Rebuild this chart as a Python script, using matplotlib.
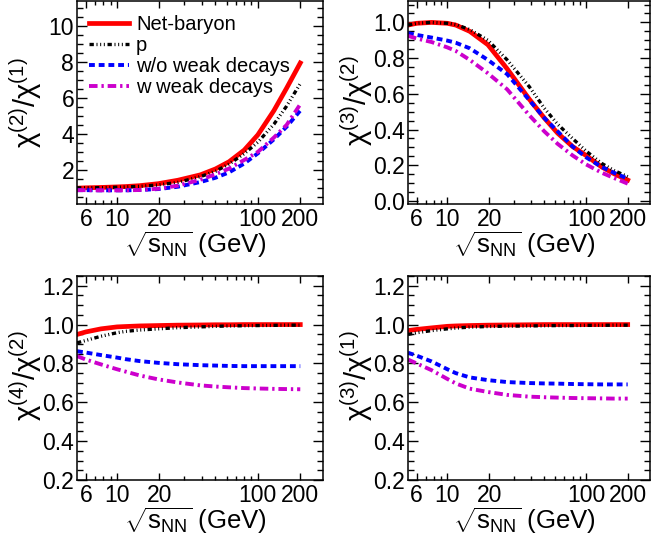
import matplotlib
matplotlib.use('Agg')
import matplotlib.pyplot as plt
from matplotlib.ticker import FixedLocator, NullFormatter, MultipleLocator

plt.rcParams['font.family'] = ['Liberation Sans', 'DejaVu Sans']
plt.rcParams['mathtext.fontset'] = 'custom'
plt.rcParams['mathtext.rm'] = 'Liberation Sans'
plt.rcParams['mathtext.it'] = 'Liberation Sans:italic'
plt.rcParams['mathtext.bf'] = 'Liberation Sans:bold'
plt.rcParams['mathtext.default'] = 'regular'

# collision energies (GeV)
energy = [5.2, 6, 7.7, 10, 11.5, 14.5, 19.6, 27, 39, 50, 62.4, 80, 100, 130, 160, 200]

series_names = ['Net-baryon', 'p', 'w/o weak decays', 'w weak decays']

# chi2/chi1
r21_netb = [0.98, 1.0, 1.02, 1.05, 1.07, 1.12, 1.23, 1.42, 1.72, 2.05, 2.45, 3.1, 3.95, 5.3, 6.55, 7.95]
r21_p = [1.0, 1.0, 1.01, 1.03, 1.05, 1.08, 1.16, 1.3, 1.62, 1.92, 2.32, 2.9, 3.54, 4.54, 5.55, 6.8]
r21_wo = [0.87, 0.87, 0.86, 0.86, 0.86, 0.88, 0.93, 1.06, 1.32, 1.56, 1.86, 2.35, 2.92, 3.7, 4.4, 5.3]
r21_w = [0.87, 0.87, 0.86, 0.86, 0.86, 0.88, 0.95, 1.12, 1.45, 1.75, 2.07, 2.55, 3.0, 3.8, 4.5, 5.65]

# chi3/chi2
r32_netb = [0.985, 0.995, 1.0, 0.995, 0.985, 0.95, 0.875, 0.74, 0.57, 0.465, 0.38, 0.305, 0.255, 0.19, 0.152, 0.117]
r32_p = [0.985, 0.995, 1.0, 0.995, 0.988, 0.96, 0.9, 0.79, 0.64, 0.52, 0.43, 0.35, 0.28, 0.21, 0.17, 0.136]
r32_wo = [0.94, 0.93, 0.915, 0.898, 0.886, 0.855, 0.79, 0.71, 0.565, 0.465, 0.39, 0.305, 0.245, 0.19, 0.157, 0.125]
r32_w = [0.925, 0.91, 0.89, 0.86, 0.84, 0.79, 0.715, 0.625, 0.48, 0.39, 0.32, 0.255, 0.205, 0.158, 0.128, 0.097]

# chi4/chi2
r42_netb = [0.949, 0.962, 0.978, 0.988, 0.99, 0.993, 0.995, 0.997, 0.998, 0.999, 0.999, 1.0, 1.0, 1.0, 1.0, 1.0]
r42_p = [0.906, 0.918, 0.94, 0.958, 0.965, 0.972, 0.978, 0.984, 0.988, 0.991, 0.993, 0.994, 0.995, 0.996, 0.997, 0.997]
r42_wo = [0.863, 0.856, 0.843, 0.83, 0.822, 0.812, 0.803, 0.796, 0.791, 0.789, 0.787, 0.786, 0.786, 0.786, 0.786, 0.786]
r42_w = [0.838, 0.82, 0.795, 0.77, 0.758, 0.738, 0.718, 0.702, 0.687, 0.681, 0.677, 0.673, 0.671, 0.669, 0.668, 0.667]

# chi3/chi1
r31_netb = [0.969, 0.975, 0.983, 0.991, 0.993, 0.995, 0.997, 0.998, 0.999, 1.0, 1.0, 1.0, 1.0, 1.0, 1.0, 1.0]
r31_p = [0.949, 0.958, 0.969, 0.978, 0.982, 0.987, 0.99, 0.992, 0.993, 0.994, 0.995, 0.995, 0.996, 0.996, 0.997, 0.997]
r31_wo = [0.855, 0.84, 0.81, 0.77, 0.75, 0.728, 0.714, 0.704, 0.699, 0.697, 0.696, 0.694, 0.693, 0.692, 0.692, 0.692]
r31_w = [0.82, 0.80, 0.765, 0.72, 0.697, 0.67, 0.653, 0.638, 0.629, 0.626, 0.624, 0.622, 0.621, 0.62, 0.619, 0.619]

x_ticks = [6, 10, 20, 100, 200]
x_ticklabels = ['6', '10', '20', '100', '200']

line_styles = [
    dict(color='#ff0000', lw=3.4, linestyle='-'),
    dict(color='black', lw=2.4, linestyle=(0, (1.3, 0.8, 0.3, 0.8, 0.3, 0.8, 0.3, 0.8))),
    dict(color='#0000ff', lw=2.8, linestyle=(0, (1.5, 1.0))),
    dict(color='#cc00cc', lw=2.8, linestyle=(0, (2.2, 1.0, 0.6, 1.0))),
]


def style_axis(ax, ylim, ymajor, yminor, ylabel, yformat, label_y):
    ax.set_xscale('log')
    ax.set_xlim(5.2, 290)
    ax.set_ylim(*ylim)
    ax.xaxis.set_major_locator(FixedLocator(x_ticks))
    ax.set_xticklabels(x_ticklabels)
    ax.xaxis.set_minor_locator(FixedLocator([5, 7, 8, 9, 30, 40, 50, 60, 70, 80, 90]))
    ax.xaxis.set_minor_formatter(NullFormatter())
    ax.yaxis.set_major_locator(MultipleLocator(ymajor))
    ax.yaxis.set_minor_locator(MultipleLocator(yminor))
    ax.yaxis.set_major_formatter(plt.FuncFormatter(lambda v, p: yformat.format(v)))
    ax.tick_params(which='both', direction='in', top=True, right=True, labelsize=16.5, width=1)
    ax.tick_params(which='major', length=7)
    ax.tick_params(which='minor', length=4)
    ax.tick_params(axis='x', which='major', length=5, pad=3)
    ax.tick_params(axis='x', which='minor', length=3)
    ax.tick_params(axis='y', pad=2)
    for s in ax.spines.values():
        s.set_linewidth(1.1)
    ax.set_xlabel(r'$\sqrt{s_{NN}}$ (GeV)', fontsize=18.5)
    ax.xaxis.set_label_coords(0.48, -0.125)
    ax.set_ylabel(ylabel, fontsize=21)
    ax.yaxis.set_label_coords(-0.135, label_y)


fig = plt.figure(figsize=(6.52, 5.46), dpi=100)
ax_tl = fig.add_axes([0.1181, 0.6264, 0.3773, 0.3718])
ax_tr = fig.add_axes([0.6258, 0.6264, 0.3712, 0.3718])
ax_bl = fig.add_axes([0.1181, 0.1209, 0.3773, 0.3736])
ax_br = fig.add_axes([0.6258, 0.1209, 0.3712, 0.3736])

panels = [
    (ax_tl, [r21_netb, r21_p, r21_wo, r21_w], (0.1, 11.4), 2, 0.5, r'$\chi^{(2)}/\chi^{(1)}$', '{:.0f}', 0.5),
    (ax_tr, [r32_netb, r32_p, r32_wo, r32_w], (-0.017, 1.12), 0.2, 0.05, r'$\chi^{(3)}/\chi^{(2)}$', '{:.1f}', 0.51),
    (ax_bl, [r42_netb, r42_p, r42_wo, r42_w], (0.2, 1.25), 0.2, 0.05, r'$\chi^{(4)}/\chi^{(2)}$', '{:.1f}', 0.51),
    (ax_br, [r31_netb, r31_p, r31_wo, r31_w], (0.2, 1.25), 0.2, 0.05, r'$\chi^{(3)}/\chi^{(1)}$', '{:.1f}', 0.51),
]

for ax, series, ylim, ymaj, ymin, ylabel, yfmt, ly in panels:
    for name, vals, st in zip(series_names, series, line_styles):
        ax.plot(energy, vals, label=name, **st)
    style_axis(ax, ylim, ymaj, ymin, ylabel, yfmt, ly)

# top-left: labels only at 2..10
ax_tl.yaxis.set_major_locator(FixedLocator([2, 4, 6, 8, 10]))

ax_tl.legend(loc='upper left', bbox_to_anchor=(-0.01, 1.0), frameon=False, fontsize=14.5,
             handlelength=2.0, handletextpad=0.35, labelspacing=0.1, borderaxespad=0.3)

fig.savefig('out.png', dpi=100)
